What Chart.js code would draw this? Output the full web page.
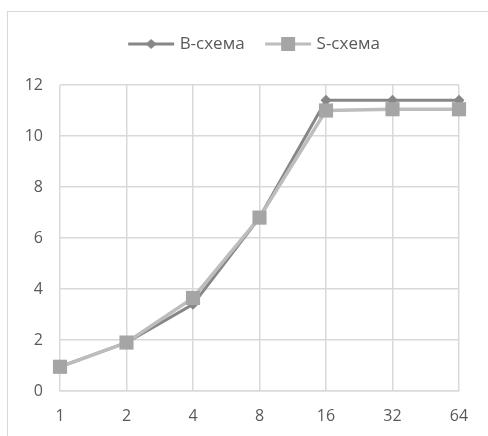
<!DOCTYPE html>
<html>
<head>
<meta charset="utf-8">
<script src="https://cdn.jsdelivr.net/npm/chart.js@4"></script>
<style>
  html, body { margin: 0; padding: 0; background: #ffffff; }
  body { width: 488px; height: 436px; position: relative; overflow: hidden; }
  #frame { position: absolute; left: 7px; top: 11px; width: 520px; height: 480px;
           border: 1px solid #d9d9d9; box-sizing: border-box; }
  #wrap { position: absolute; left: 0; top: 0; width: 488px; height: 436px; }
</style>
</head>
<body>
<div id="frame"></div>
<div id="wrap"><canvas id="chart" width="488" height="436"></canvas></div>
<script>
// Number of threads on the x axis, and the two schemes' values
const categories = ["1", "2", "4", "8", "16", "32", "64"];
const bScheme = [0.95, 1.9, 3.4, 6.8, 11.4, 11.4, 11.4];
const sScheme = [0.95, 1.9, 3.65, 6.8, 11.0, 11.05, 11.05];
const yTicks = [0, 2, 4, 6, 8, 10, 12];

const FONT = "'Open Sans', 'Noto Sans', sans-serif";
const TICK_SIZE = 16;
const LEGEND_SIZE = 17;
const TEXT = "#595959";
const GRID = "#d9d9d9";
const B_COLOR = "#878787";
const S_LINE = "#bdbdbd";
const S_MARK = "#a5a5a5";

// Legend swatch: a short line with the series marker in the middle
function swatch(lineColor, markColor, shape) {
  const c = document.createElement("canvas");
  c.width = 48; c.height = 16;
  const g = c.getContext("2d");
  g.strokeStyle = lineColor; g.lineWidth = 3;
  g.beginPath(); g.moveTo(1, 8); g.lineTo(47, 8); g.stroke();
  g.fillStyle = markColor;
  if (shape === "diamond") {
    g.beginPath(); g.moveTo(24, 3); g.lineTo(29.5, 8); g.lineTo(24, 13); g.lineTo(18.5, 8); g.closePath(); g.fill();
  } else {
    g.fillRect(17, 1, 14, 14);
  }
  return c;
}
const swatches = [swatch(B_COLOR, B_COLOR, "diamond"), swatch(S_LINE, S_MARK, "square")];

// Fixed band between the legend row and the plot; legend row nudged right
const legendBand = {
  id: "legendBand",
  afterInit(chart) {
    const legend = chart.legend;
    if (!legend) return;
    const fit = legend.fit;
    legend.fit = function () {
      fit.call(this);
      this.height = 73;
    };
  },
  afterLayout(chart) {
    const legend = chart.legend;
    if (!legend) return;
    legend.left += 26;
    legend.right += 26;
  }
};

new Chart(document.getElementById("chart"), {
  type: "line",
  plugins: [legendBand],
  data: {
    labels: categories,
    datasets: [
      {
        label: "B-схема",
        data: bScheme,
        borderColor: B_COLOR,
        backgroundColor: B_COLOR,
        borderWidth: 3,
        pointStyle: "rectRot",
        pointRadius: 5.5,
        pointBorderWidth: 0,
        tension: 0,
        order: 1
      },
      {
        label: "S-схема",
        data: sScheme,
        borderColor: S_LINE,
        backgroundColor: S_MARK,
        borderWidth: 3.5,
        pointStyle: "rect",
        pointRadius: 10,
        pointBorderWidth: 0,
        tension: 0,
        order: 0
      }
    ]
  },
  options: {
    responsive: false,
    animation: false,
    layout: { padding: { top: 12, left: 0, right: 29, bottom: 0 } },
    plugins: {
      tooltip: { enabled: false },
      legend: {
        position: "top",
        labels: {
          usePointStyle: true,
          pointStyleWidth: 40,
          padding: 23.5,
          color: TEXT,
          font: { family: FONT, size: LEGEND_SIZE },
          generateLabels(chart) {
            return chart.data.datasets.map((ds, i) => ({
              text: ds.label,
              pointStyle: swatches[i],
              fillStyle: ds.backgroundColor,
              strokeStyle: ds.borderColor,
              lineWidth: 0,
              hidden: false,
              datasetIndex: i,
              fontColor: TEXT
            }));
          }
        }
      }
    },
    scales: {
      x: {
        offset: false,
        grid: { color: GRID, lineWidth: 1.5, drawTicks: false },
        border: { color: GRID, width: 1.5 },
        ticks: { color: TEXT, font: { family: FONT, size: TICK_SIZE }, padding: 16, maxRotation: 0 },
        afterFit(scale) { scale.height = 45; }
      },
      y: {
        min: 0,
        max: 12,
        afterBuildTicks(axis) { axis.ticks = yTicks.map(v => ({ value: v })); },
        grid: { color: GRID, lineWidth: 1.5, drawTicks: false },
        border: { display: false },
        ticks: { color: TEXT, font: { family: FONT, size: TICK_SIZE }, padding: 17 },
        afterFit(scale) { scale.width = 60; }
      }
    }
  }
});
</script>
</body>
</html>
